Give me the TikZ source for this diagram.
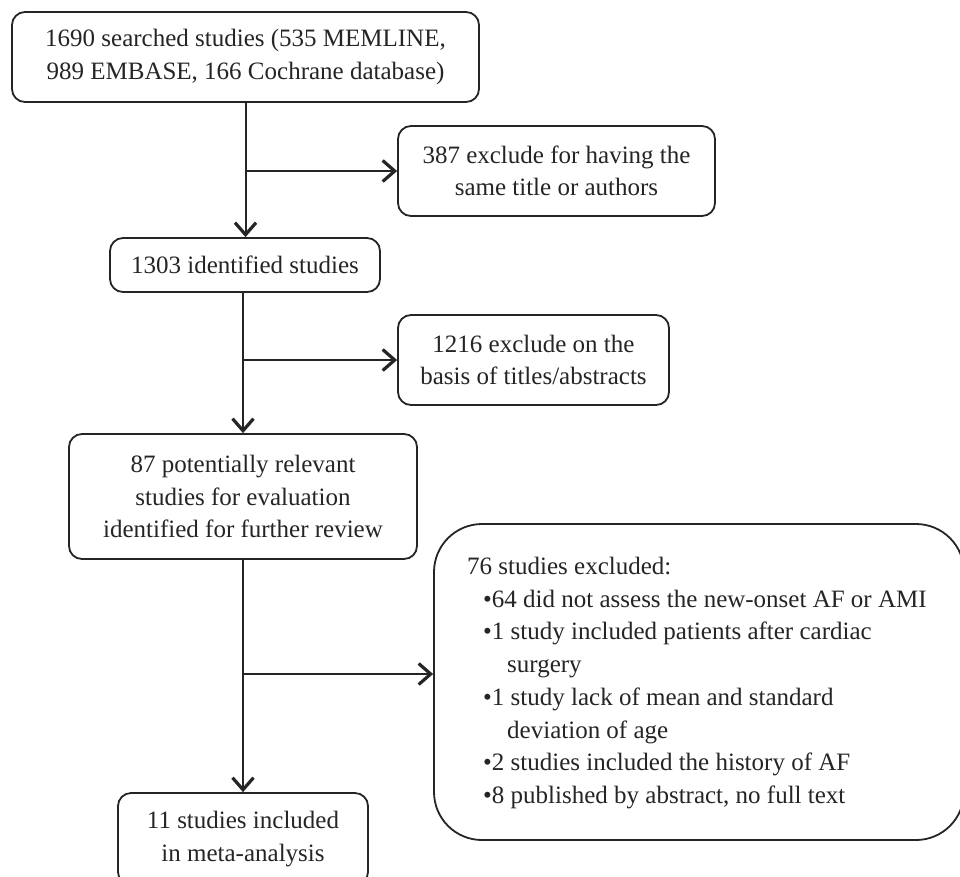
\documentclass[tikz,border=0pt]{standalone}
\usepackage{fontspec}
\setmainfont{Liberation Serif}
\usetikzlibrary{arrows.meta}
\definecolor{ink}{HTML}{252525}
\begin{document}
\begin{tikzpicture}[x=1pt,y=-1pt,
  box/.style={draw=ink, line width=1.8pt, rounded corners=13pt, fill=white,
    inner sep=0pt, align=center, text=ink,
    font=\fontsize{25}{32.5}\selectfont},
  txt/.style={inner sep=0pt, align=left, text=ink,
    font=\fontsize{25}{32.7}\selectfont},
  flow/.style={draw=ink, line width=2pt,
    -{Straight Barb[length=12pt,width=21pt,line width=3.2pt]}}]
\useasboundingbox[fill=white] (0,0) rectangle (960,876);

\node[box, minimum width=467pt, minimum height=90pt] (b1) at (245.5,57)
  {1690 searched studies (535 MEMLINE,\\989 EMBASE, 166 Cochrane database)};
\node[box, minimum width=317pt, minimum height=90pt] (b2) at (556.5,171)
  {387 exclude for having the\\same title or authors};
\node[box, minimum width=270pt, minimum height=54pt] (b3) at (245,265)
  {1303 identified studies};
\node[box, minimum width=271pt, minimum height=90pt] (b4) at (533.5,360)
  {1216 exclude on the\\basis of titles/abstracts};
\node[box, minimum width=348pt, minimum height=125pt] (b5) at (243,496.5)
  {87 potentially relevant\\studies for evaluation\\identified for further review};
\node[box, rounded corners=48pt, minimum width=530pt, minimum height=316pt]
  (b6) at (699,682) {};
\node[txt, anchor=west] (b6t) at (467,683)
  {76 studies excluded:\\
   \hspace*{16pt}•64 did not assess the new-onset AF or AMI\\
   \hspace*{16pt}•1 study included patients after cardiac\\
   \hspace*{40pt}surgery\\
   \hspace*{16pt}•1 study lack of mean and standard\\
   \hspace*{40pt}deviation of age\\
   \hspace*{16pt}•2 studies included the history of AF\\
   \hspace*{16pt}•8 published by abstract, no full text};
\node[box, minimum width=250pt, minimum height=92pt] (b7) at (243,839)
  {11 studies included\\in meta-analysis};

\draw[flow] (b1.south) -- (b1.south |- b3.north);
\draw[flow] (b1.south |- b2.west) -- (b2.west);
\draw[flow] (b5.north |- b3.south) -- (b5.north);
\draw[flow] (b5.north |- b4.west) -- (b4.west);
\draw[flow] (b5.south) -- (b7.north);
\coordinate (j3) at (243,674);
\draw[flow] (j3) -- (j3 -| b6.west);
\end{tikzpicture}
\end{document}
